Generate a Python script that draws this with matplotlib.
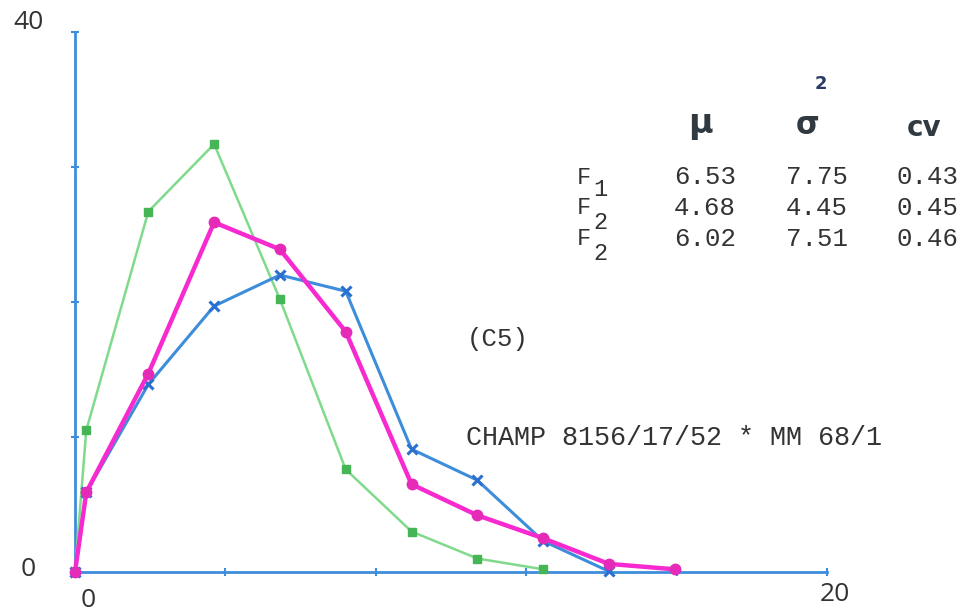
import matplotlib
matplotlib.use("Agg")
import matplotlib.pyplot as plt

# class midpoints (x) shared by the three curves
xs = [0, 0.3, 1.95, 3.7, 5.45, 7.2, 8.95, 10.7, 12.45, 14.2, 15.95]

blue_y = [0, 5.9, 13.9, 19.7, 22.0, 20.8, 9.1, 6.8, 2.3, 0.05]
pink_y = [0, 5.9, 14.7, 25.9, 23.9, 17.8, 6.5, 4.2, 2.5, 0.6, 0.2]
green_y = [0, 10.5, 26.7, 31.7, 20.2, 7.6, 3.0, 1.0, 0.2]

# table in the corner
rows = ["F", "F", "F"]
subs = ["1", "2", "2"]
mu = ["6.53", "4.68", "6.02"]
sigma2 = ["7.75", "4.45", "7.51"]
cv = ["0.43", "0.45", "0.46"]

BLUE = "#3d8ddb"
PINK = "#f72ad0"
GREEN = "#80da8c"
TXT = "#333333"
MONO = "Liberation Mono"

W, H = 968, 614
fig = plt.figure(figsize=(W / 100, H / 100), dpi=100)
ax = fig.add_axes([75 / W, 1 - 572 / H, 752 / W, 540 / H])
ax.set_xlim(0, 20)
ax.set_ylim(0, 40)

for s in ["top", "right"]:
    ax.spines[s].set_visible(False)
for s in ["left", "bottom"]:
    ax.spines[s].set_color(BLUE)
    ax.spines[s].set_linewidth(2)

ax.set_xticks([0, 4, 8, 12, 16, 20])
ax.set_yticks([0, 10, 20, 30, 40])
ax.tick_params(colors=BLUE, direction="inout", length=6, width=1.5,
               labelbottom=False, labelleft=False)

ax.plot(xs[:len(green_y)], green_y, color=GREEN, lw=1.8, marker="s", ms=6,
        mfc="#45b556", mec="#45b556", clip_on=False, zorder=3)
ax.plot(xs[:len(blue_y)], blue_y, color=BLUE, lw=2.2, marker="x", ms=7,
        mew=2.2, mec="#2b6fd0", clip_on=False, zorder=4)
ax.plot(xs[:len(pink_y)], pink_y, color=PINK, lw=3.2, marker="o", ms=7.5,
        mfc="#e62ab8", mec="#e62ab8", clip_on=False, zorder=5)

# axis end labels
lab = dict(fontsize=19, color=TXT, family="Open Sans", ha="center", va="center")
ax.text(-1.25, 40.7, "40", **lab)
ax.text(-1.25, 0.15, "0", **lab)
ax.text(0.35, -2.1, "0", **lab)
ax.text(20.2, -1.7, "20", **lab)

def fx(px):
    return px / W

def fy(py):
    return 1 - py / H

mono = dict(family=MONO, color=TXT, va="center")
fig.text(fx(467), fy(339), "(C5)", fontsize=18.5, **mono)
fig.text(fx(466), fy(438), "CHAMP 8156/17/52 * MM 68/1", fontsize=19.3, **mono)

# header
hdr = dict(color="#303a40", fontweight="bold", ha="center", va="center",
           family="DejaVu Sans")
fig.text(fx(700), fy(123), "\u00b5", fontsize=24, **hdr)
fig.text(fx(808), fy(126), "\u03c3", fontsize=22, **hdr)
fig.text(fx(821), fy(84), "2", fontsize=13, color="#2a3a66",
         fontweight="bold", ha="center", va="center", family="DejaVu Sans")
fig.text(fx(924), fy(128), "cv", fontsize=20, **hdr)

row_y = [177, 208, 239]
sub_dy = [12, 15, 15]
for i in range(3):
    y = row_y[i]
    fig.text(fx(584), fy(y), rows[i], fontsize=17, ha="center", **mono)
    fig.text(fx(600), fy(y + sub_dy[i]), subs[i], fontsize=17, ha="center", **mono)
    fig.text(fx(705), fy(y), mu[i], fontsize=18.5, ha="center", **mono)
    fig.text(fx(817), fy(y), sigma2[i], fontsize=18.5, ha="center", **mono)
    fig.text(fx(928), fy(y), cv[i], fontsize=18.5, ha="center", **mono)

fig.savefig("out.png", dpi=100)
